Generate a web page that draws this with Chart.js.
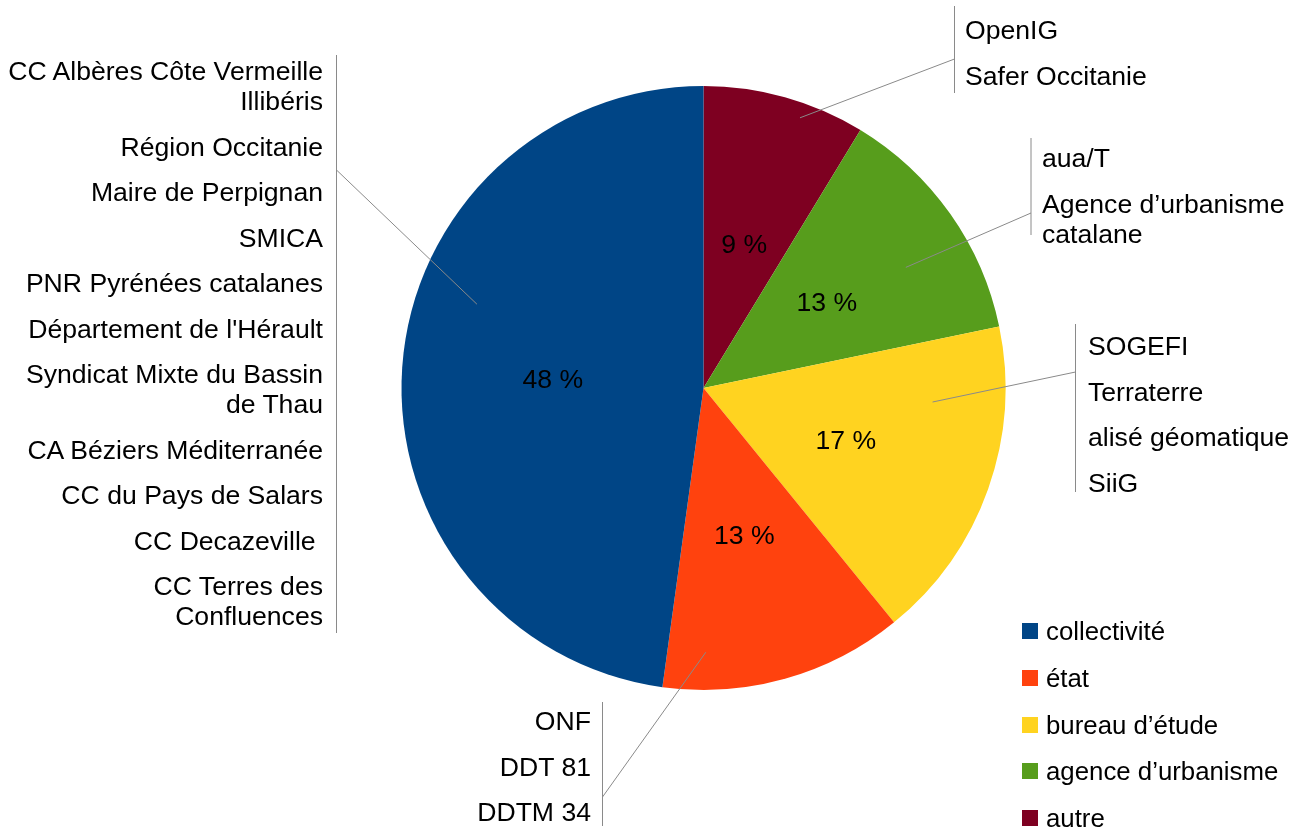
<!DOCTYPE html>
<html lang="fr">
<head>
<meta charset="utf-8">
<title>Répartition des structures</title>
<script src="https://cdn.jsdelivr.net/npm/chart.js@4.4.1/dist/chart.umd.min.js"></script>
<style>
  body { margin: 0; background: #fff; }
  #wrap { position: relative; width: 1299px; height: 828px; font-family: "Liberation Sans", Arial, sans-serif; color: #000; }
  #wrap canvas { position: absolute; left: 0; top: 0; }
  .liste { position: absolute; display: flex; flex-direction: column; gap: 15.5px; font-size: 26.6px; line-height: 30px; white-space: pre; }
  .liste.gauche { text-align: right; }
  #legende { position: absolute; left: 1022px; top: 616px; font-size: 25.8px; line-height: 30px; }
  #legende div { display: flex; align-items: center; height: 30px; margin-bottom: 16.75px; }
  #legende span.carre { display: inline-block; width: 16px; height: 16px; margin-right: 8px; }
</style>
</head>
<body>
<div id="wrap">
  <canvas id="camembert" width="1299" height="828"></canvas>
  <div id="legende"></div>
</div>
<script>
// catégories dans l'ordre de la légende
const categories = ['collectivité', 'état', 'bureau d’étude', 'agence d’urbanisme', 'autre'];
const effectifs = [11, 3, 4, 3, 2];
const couleurs = ['#004586', '#ff420e', '#ffd320', '#579d1c', '#7e0021'];

const nomsCollectivite = ['CC Albères Côte Vermeille\nIllibéris', 'Région Occitanie', 'Maire de Perpignan', 'SMICA',
  'PNR Pyrénées catalanes', "Département de l'Hérault", 'Syndicat Mixte du Bassin\nde Thau', 'CA Béziers Méditerranée',
  'CC du Pays de Salars', 'CC Decazeville ', 'CC Terres des\nConfluences'];
const nomsEtat = ['ONF', 'DDT 81', 'DDTM 34'];
const nomsBureau = ['SOGEFI', 'Terraterre', 'alisé géomatique', 'SiiG'];
const nomsAgence = ['aua/T', 'Agence d’urbanisme\ncatalane'];
const nomsAutre = ['OpenIG', 'Safer Occitanie'];

const listesNoms = [nomsCollectivite, nomsEtat, nomsBureau, nomsAgence, nomsAutre];

// mise en page des étiquettes (une par catégorie)
const bulles = [
  { cote: 'gauche', bord: 323, haut: 56, barre: { x: 336, y1: 55, y2: 633, yJ: 170 }, pointe: { deg: 290.3, r: 0.80 } },
  { cote: 'gauche', bord: 591, haut: 706, barre: { x: 602, y1: 702, y2: 826, yJ: 797 }, pointe: { deg: 179.5, r: 0.875 } },
  { cote: 'droite', bord: 1088, haut: 331, barre: { x: 1075, y1: 324, y2: 492, yJ: 372 }, pointe: { deg: 93.5, r: 0.76 } },
  { cote: 'droite', bord: 1042, haut: 143, barre: { x: 1030.5, y1: 138, y2: 235, yJ: 213 }, pointe: { deg: 59.2, r: 0.78 } },
  { cote: 'droite', bord: 965, haut: 15, barre: { x: 954, y1: 6, y2: 93, yJ: 59 }, pointe: { deg: 19.65, r: 0.95 } }
];

const wrap = document.getElementById('wrap');
listesNoms.forEach((noms, i) => {
  const b = bulles[i];
  const div = document.createElement('div');
  div.className = 'liste ' + b.cote;
  div.style.top = b.haut + 'px';
  if (b.cote === 'gauche') div.style.right = (1299 - b.bord) + 'px';
  else div.style.left = b.bord + 'px';
  noms.forEach(n => {
    const d = document.createElement('div');
    d.textContent = n;
    div.appendChild(d);
  });
  wrap.appendChild(div);
});

const legende = document.getElementById('legende');
categories.forEach((c, i) => {
  const ligne = document.createElement('div');
  ligne.innerHTML = '<span class="carre" style="background:' + couleurs[i] + '"></span>' + c;
  legende.appendChild(ligne);
});

// le graphique tourne dans le sens antihoraire : on inverse l'ordre pour Chart.js
const ordre = [4, 3, 2, 1, 0];
const total = effectifs.reduce((a, b) => a + b, 0);

const pluginEtiquettes = {
  id: 'etiquettes',
  afterDatasetsDraw(chart) {
    const ctx = chart.ctx;
    const meta = chart.getDatasetMeta(0);
    ctx.save();
    // lignes de rappel
    ctx.strokeStyle = '#8a8a8a';
    ctx.lineWidth = 1;
    meta.data.forEach((arc, j) => {
      const b = bulles[ordre[j]];
      const a = (b.pointe.deg - 90) * Math.PI / 180;
      const px = arc.x + Math.cos(a) * arc.outerRadius * b.pointe.r;
      const py = arc.y + Math.sin(a) * arc.outerRadius * b.pointe.r;
      ctx.beginPath();
      ctx.moveTo(b.barre.x + 0.5, b.barre.y1);
      ctx.lineTo(b.barre.x + 0.5, b.barre.y2);
      ctx.moveTo(px, py);
      ctx.lineTo(b.barre.x + 0.5, b.barre.yJ);
      ctx.stroke();
    });
    // pourcentages
    ctx.fillStyle = '#000';
    ctx.font = '26.6px "Liberation Sans", Arial, sans-serif';
    ctx.textAlign = 'center';
    ctx.textBaseline = 'middle';
    meta.data.forEach((arc, j) => {
      const pos = arc.tooltipPosition();
      const v = chart.data.datasets[0].data[j];
      ctx.fillText(Math.round(v / total * 100) + ' %', pos.x, pos.y + 3);
    });
    ctx.restore();
  }
};

new Chart(document.getElementById('camembert'), {
  type: 'pie',
  data: {
    labels: ordre.map(i => categories[i]),
    datasets: [{
      data: ordre.map(i => effectifs[i]),
      backgroundColor: ordre.map(i => couleurs[i]),
      borderWidth: 0
    }]
  },
  options: {
    responsive: false,
    animation: false,
    layout: { padding: { left: 401.5, top: 86, right: 293.5, bottom: 138 } },
    plugins: {
      legend: { display: false },
      tooltip: { enabled: false }
    }
  },
  plugins: [pluginEtiquettes]
});
</script>
</body>
</html>
